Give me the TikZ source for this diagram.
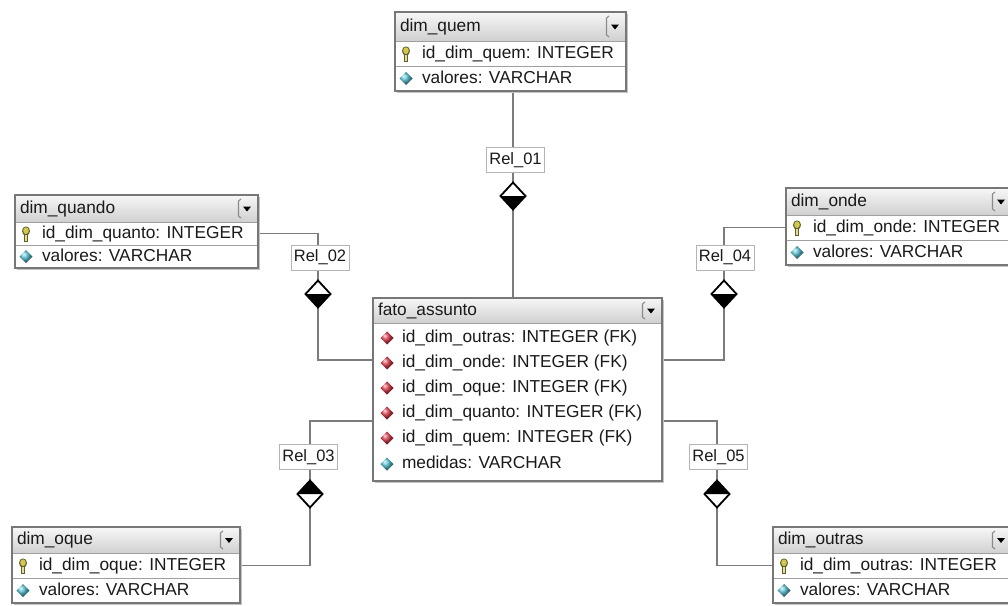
\documentclass[tikz,border=0pt]{standalone}
\usepackage{fontspec}
\setmainfont{Liberation Sans}
\usetikzlibrary{shapes.geometric,calc,backgrounds}
\pgfdeclarelayer{paper}
\pgfsetlayers{paper,background,main}
\definecolor{txt}{HTML}{1A1A1A}
\definecolor{bordr}{HTML}{777777}
\definecolor{sepc}{HTML}{A0A0A0}
\definecolor{hdtop}{HTML}{F7F7F7}
\definecolor{hdbot}{HTML}{D0D0D0}
\definecolor{linec}{HTML}{7C7C7C}
\definecolor{lblb}{HTML}{B4B4B4}
\definecolor{keyc}{HTML}{D2C850}
\definecolor{keyd}{HTML}{5E5E28}
\definecolor{attrc}{HTML}{58C2D4}
\definecolor{fkc}{HTML}{DC3C4C}
\definecolor{shadowc}{HTML}{C4C4C4}
\definecolor{btnc}{HTML}{8A8A8A}

\tikzset{
  every node/.style={inner sep=0pt, outer sep=0pt},
  tabtext/.style={anchor=west, font=\fontsize{17.3}{17.3}\selectfont, text=txt, text height=12.5pt, text depth=3.5pt},
  tabframe/.style={rectangle, anchor=north west, fill=white},
  frameline/.style={draw=bordr, line width=1.3pt},
  sepline/.style={draw=sepc, line width=1pt},
  conn/.style={draw=linec, line width=1.3pt},
  rellabel/.style={draw=lblb, fill=white, line width=1pt, rectangle, minimum height=25pt, minimum width=58pt, font=\fontsize{16.5}{16.5}\selectfont, text=txt, text height=12pt, text depth=3.5pt},
  reldia/.style={diamond, fill=white, minimum width=25pt, minimum height=27pt},
  diaedge/.style={draw=black, line width=1.8pt, line join=miter},
  pkkey/.pic={
    \fill[keyd] (0,-2.5) ellipse (4 and 4.6);
    \fill[keyc] (0,-2.8) ellipse (2.8 and 3.4);
    \fill[keyd] (-1.6,1.5) rectangle (1.6,8);
    \fill[keyc!60!white] (-0.6,1.5) rectangle (0.6,7.2);
  },
  attrdia/.pic={
    \shade[ball color=attrc] (0,-6.5) -- (6.5,0) -- (0,6.5) -- (-6.5,0) -- cycle;
  },
  fkdia/.pic={
    \shade[ball color=fkc] (0,-6.5) -- (6.5,0) -- (0,6.5) -- (-6.5,0) -- cycle;
  }
}

% #1 name, #2 left, #3 top, #4 width, #5 header height, #6 row height, #7 title, #8 key row, #9 attribute row
\newcommand{\ertable}[9]{%
  \begin{scope}[shift={(#2,#3)}]
    \fill[shadowc] (2,2) rectangle ({#4+2},{#5+2*#6+2});
    \node[tabframe, minimum width=#4, minimum height={#5+2*#6}] (#1) at (0,0) {};
    \shade[top color=hdtop, bottom color=hdbot] (0,0) rectangle (#4,#5);
    \draw[btnc, line width=1.1pt] ({#4-17},4) -- ({#4-19.5},6) -- ({#4-19.5},{#5-6}) -- ({#4-17},{#5-4});
    \fill[black] ({#4-15},{#5/2-2}) -- ({#4-7},{#5/2-2}) -- ({#4-11},{#5/2+3}) -- cycle;
    \draw[sepline] (0,#5) -- (#4,#5);
    \draw[sepline] (0,{#5+#6}) -- (#4,{#5+#6});
    \node[tabtext] (#1-title) at (5,{#5/2}) {#7};
    \pic at (11,{#5+#6/2}) {pkkey};
    \node[tabtext] (#1-pk) at (27,{#5+#6/2}) {#8};
    \pic at (11,{#5+1.5*#6}) {attrdia};
    \node[tabtext] (#1-val) at (27,{#5+1.5*#6}) {#9};
    \draw[frameline] (#1.north west) rectangle (#1.south east);
  \end{scope}}

\begin{document}
\begin{tikzpicture}[x=1pt, y=-1pt]
\useasboundingbox (0,0) rectangle (1008,605);
\begin{pgfonlayer}{paper}
  \fill[white] (0,0) rectangle (1008,605);
\end{pgfonlayer}
\clip (0,0) rectangle (1008,605);

% dimension tables
\ertable{quem}{395}{12}{231}{29}{25}{dim\_quem}{id\_dim\_quem: INTEGER}{valores: VARCHAR}
\ertable{quando}{15}{195}{243}{27}{23}{dim\_quando}{id\_dim\_quanto: INTEGER}{valores: VARCHAR}
\ertable{onde}{786}{188}{226}{27}{25}{dim\_onde}{id\_dim\_onde: INTEGER}{valores: VARCHAR}
\ertable{oque}{12}{527}{228}{26}{25}{dim\_oque}{id\_dim\_oque: INTEGER}{valores: VARCHAR}
\ertable{outras}{773}{527}{239}{26}{25}{dim\_outras}{id\_dim\_outras: INTEGER}{valores: VARCHAR}

% fact table
\begin{scope}[shift={(373,298)}]
  \fill[shadowc] (2,2) rectangle (291,185);
  \node[tabframe, minimum width=289, minimum height=183] (fato) at (0,0) {};
  \shade[top color=hdtop, bottom color=hdbot] (0,0) rectangle (289,25);
  \draw[btnc, line width=1.1pt] (272,4) -- (269.5,6) -- (269.5,19) -- (272,21);
  \fill[black] (274,10.5) -- (282,10.5) -- (278,15.5) -- cycle;
  \draw[sepline] (0,25) -- (289,25);
  \node[tabtext] (fato-title) at (5,12.5) {fato\_assunto};
  \pic at (14,40) {fkdia};
  \node[tabtext] (fato-r1) at (29,40) {id\_dim\_outras: INTEGER (FK)};
  \pic at (14,65) {fkdia};
  \node[tabtext] (fato-r2) at (29,65) {id\_dim\_onde: INTEGER (FK)};
  \pic at (14,90) {fkdia};
  \node[tabtext] (fato-r3) at (29,90) {id\_dim\_oque: INTEGER (FK)};
  \pic at (14,115) {fkdia};
  \node[tabtext] (fato-r4) at (29,115) {id\_dim\_quanto: INTEGER (FK)};
  \pic at (14,140) {fkdia};
  \node[tabtext] (fato-r5) at (29,140) {id\_dim\_quem: INTEGER (FK)};
  \pic at (14,166) {attrdia};
  \node[tabtext] (fato-r6) at (29,166) {medidas: VARCHAR};
  \draw[frameline] (fato.north west) rectangle (fato.south east);
\end{scope}

% relationship labels and diamonds
\node[rellabel] (l1) at (515.5,160) {Rel\_01};
\node[reldia] (d1) at (513,196) {};
\node[rellabel] (l2) at (320,257.5) {Rel\_02};
\node[reldia] (d2) at (318,294) {};
\node[rellabel] (l3) at (308.5,457) {Rel\_03};
\node[reldia] (d3) at (310,494) {};
\node[rellabel] (l4) at (725,257.5) {Rel\_04};
\node[reldia] (d4) at (724,294) {};
\node[rellabel] (l5) at (718.5,457) {Rel\_05};
\node[reldia] (d5) at (717,494) {};

% diamond halves
\fill[black] (d1.west) -- (d1.east) -- (d1.south) -- cycle;
\fill[black] (d2.west) -- (d2.east) -- (d2.south) -- cycle;
\fill[black] (d4.west) -- (d4.east) -- (d4.south) -- cycle;
\fill[black] (d3.west) -- (d3.east) -- (d3.north) -- cycle;
\fill[black] (d5.west) -- (d5.east) -- (d5.north) -- cycle;
\foreach \d in {d1,d2,d3,d4,d5}
  \draw[diaedge] (\d.north) -- (\d.east) -- (\d.south) -- (\d.west) -- cycle;

% connectors
\begin{pgfonlayer}{background}
  \draw[conn] (quem.south -| d1.center) -- (fato.north -| d1.center);
  \draw[conn] (quando.east |- quando-pk) -| (d2.center) |- ($(fato.north west)+(0,62)$);
  \draw[conn] (onde.west |- onde-pk) -| (d4.center) |- ($(fato.north east)+(0,62)$);
  \draw[conn] ($(fato.north west)+(0,123)$) -| (d3.center) |- (oque.east |- oque-pk);
  \draw[conn] ($(fato.north east)+(0,123)$) -| (d5.center) |- (outras.west |- outras-pk);
\end{pgfonlayer}
\end{tikzpicture}
\end{document}
